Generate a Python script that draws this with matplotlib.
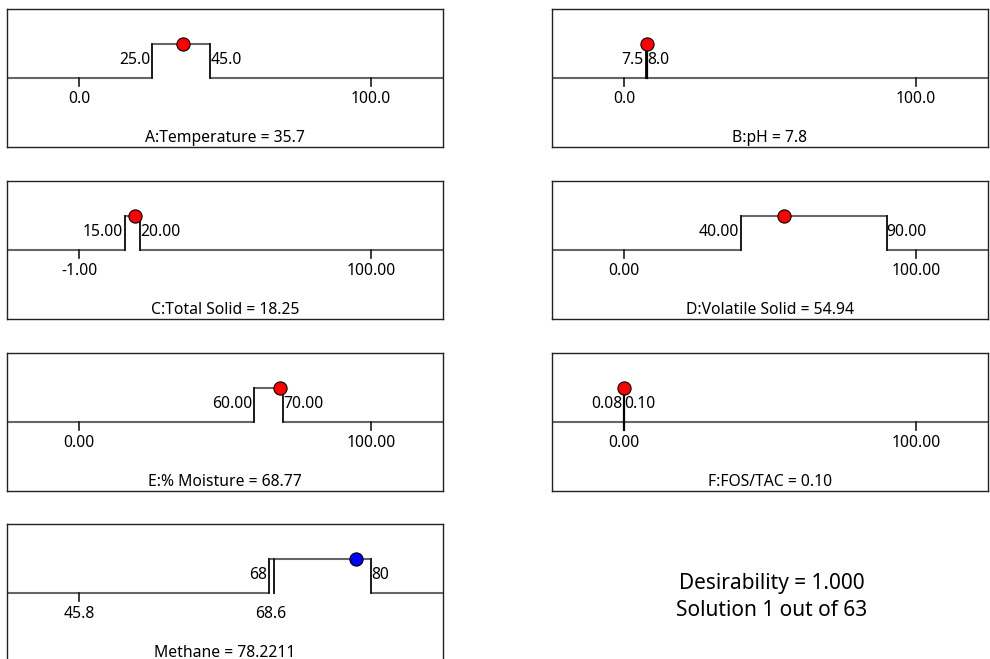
import matplotlib
matplotlib.use("Agg")
import matplotlib.pyplot as plt
from matplotlib.transforms import offset_copy

plt.rcParams["font.family"] = ["Noto Sans", "DejaVu Sans"]

# factor / response settings
NAMES = ["A:Temperature", "B:pH", "C:Total Solid", "D:Volatile Solid",
         "E:% Moisture", "F:FOS/TAC", "Methane"]
AXIS_LO = [0.0, 0.0, -1.0, 0.0, 0.0, 0.0, 45.8]
AXIS_HI = [100.0, 100.0, 100.0, 100.0, 100.0, 100.0, 80.0]
AXIS_LABELS = [("0.0", "100.0"), ("0.0", "100.0"), ("-1.00", "100.00"),
               ("0.00", "100.00"), ("0.00", "100.00"), ("0.00", "100.00"),
               ("45.8", None)]
GOAL_LO = [25.0, 7.5, 15.0, 40.0, 60.0, 0.08, 68.0]
GOAL_HI = [45.0, 8.0, 20.0, 90.0, 70.0, 0.10, 80.0]
GOAL_LABELS = [("25.0", "45.0"), ("7.5", "8.0"), ("15.00", "20.00"),
               ("40.00", "90.00"), ("60.00", "70.00"), ("0.08", "0.10"),
               ("68", "80")]
SOLUTION = [35.7, 7.8, 18.25, 54.94, 68.77, 0.10, 78.2211]
SOLUTION_TXT = ["35.7", "7.8", "18.25", "54.94", "68.77", "0.10", "78.2211"]
# observed response range shown under the methane ramp
METHANE_OBS_LO = 68.6
DESIRABILITY = 1.000
SOLUTION_NO, N_SOLUTIONS = 1, 63

W, H = 990, 659
fig = plt.figure(figsize=(W / 100, H / 100), dpi=100)

# panel boxes in pixels (left, top); all 436 x 138
boxes = [(7, 9), (552, 9), (7, 181), (552, 181), (7, 353), (552, 353), (7, 524)]
PW, PH = 436, 138
BASE, TOP = 0.5, 0.75
HLINE = "#666666"
VLINE = "#1a1a1a"
FS = 11.3

for i, (px, py) in enumerate(boxes):
    ax = fig.add_axes([px / W, 1 - (py + PH) / H, PW / W, PH / H])
    lo, hi = AXIS_LO[i], AXIS_HI[i]
    pad = 0.247 * (hi - lo)
    ax.set_xlim(lo - pad, hi + pad)
    ax.set_ylim(0, 1)
    ax.set_xticks([])
    ax.set_yticks([])
    for sp in ax.spines.values():
        sp.set_color("#222222")
        sp.set_linewidth(1.0)

    g0, g1 = GOAL_LO[i], GOAL_HI[i]
    xl, xr = lo - pad, hi + pad
    ax.plot([xl, g0], [BASE, BASE], color=HLINE, lw=1.5, solid_capstyle="butt")
    ax.plot([g1, xr], [BASE, BASE], color=HLINE, lw=1.5, solid_capstyle="butt")
    ax.plot([g0, g1], [TOP, TOP], color=HLINE, lw=1.5, solid_capstyle="butt")
    ax.plot([g0, g0], [BASE, TOP], color=VLINE, lw=1.4)
    ax.plot([g1, g1], [BASE, TOP], color=VLINE, lw=1.4)

    # axis ticks
    for val, lab in zip((lo, hi), AXIS_LABELS[i]):
        if lab is None:
            continue
        ax.plot([val, val], [BASE, BASE - 0.058], color=VLINE, lw=1.2)
        ax.text(val, 0.346, lab, ha="center", va="center", fontsize=FS)

    # goal limit labels
    left_tr = offset_copy(ax.transData, fig=fig, x=-2, y=0, units="dots")
    ax.text(g0, 0.63, GOAL_LABELS[i][0], ha="right", va="center", fontsize=FS,
            transform=left_tr)
    ax.text(g1, 0.63, GOAL_LABELS[i][1], ha="left", va="center", fontsize=FS)

    color = "red"
    if NAMES[i] == "Methane":
        color = "blue"
        ax.plot([METHANE_OBS_LO, METHANE_OBS_LO], [BASE, TOP], color=VLINE, lw=1.4)
        ax.text(METHANE_OBS_LO - 0.4, 0.346, f"{METHANE_OBS_LO:.1f}",
                ha="center", va="center", fontsize=FS)
    if g1 - g0 < 0.02 * (hi - lo):
        # narrow range: draw a stem up to the solution
        ax.plot([SOLUTION[i], SOLUTION[i]], [BASE - (0.058 if g0 < lo + 1 else 0), TOP],
                color="black", lw=1.6)
    ax.plot([SOLUTION[i]], [TOP], marker="o", ms=9.5, mfc=color, mec="black",
            mew=0.8, clip_on=False, zorder=5)

    ax.text(0.5, 0.067, f"{NAMES[i]} = {SOLUTION_TXT[i]}", transform=ax.transAxes,
            ha="center", va="center", fontsize=FS)

fig.text(772 / W, 1 - 583 / H, f"Desirability = {DESIRABILITY:.3f}",
         ha="center", va="center", fontsize=15)
fig.text(772 / W, 1 - 610 / H, f"Solution {SOLUTION_NO} out of {N_SOLUTIONS}",
         ha="center", va="center", fontsize=15)

fig.savefig("out.png", dpi=100)
